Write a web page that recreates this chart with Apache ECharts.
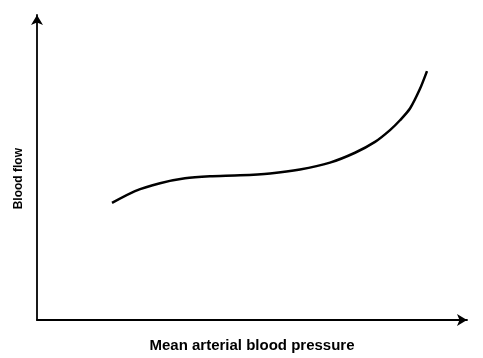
<!DOCTYPE html>
<html>
<head>
<meta charset="utf-8">
<script src="https://cdn.jsdelivr.net/npm/echarts@6/dist/echarts.min.js"></script>
<style>html,body{margin:0;padding:0;background:#fff;}#c{width:483px;height:358px;}</style>
</head>
<body>
<div id="c"></div>
<script>
// Arbitrary units (no ticks shown in the original)
var pressure = [75, 98, 123, 148, 173, 203, 233, 263, 293, 318, 338, 353, 363, 373, 383, 390];
var flow     = [119, 131, 139, 144, 146, 147, 149, 153, 160, 170, 181, 193, 203, 215, 235, 253];
var xLabel = 'Mean arterial blood pressure';
var yLabel = 'Blood flow';

var data = pressure.map(function (p, i) { return [p, flow[i]]; });
var chart = echarts.init(document.getElementById('c'));
chart.setOption({
  animation: false,
  grid: { left: 37, right: 16, top: 15, bottom: 33 },
  xAxis: {
    type: 'value', min: 0, max: 430,
    axisLine: { show: true, lineStyle: { color: '#000', width: 1.8 }, symbol: ['none', 'arrow'], symbolSize: [9, 10] },
    axisTick: { show: false }, axisLabel: { show: false }, splitLine: { show: false },
    name: xLabel, nameLocation: 'middle', nameGap: 18,
    nameTextStyle: { fontFamily: 'Liberation Sans, Arial, sans-serif', fontWeight: 'bold', fontSize: 15, color: '#000' }
  },
  yAxis: {
    type: 'value', min: 0, max: 310,
    axisLine: { show: true, lineStyle: { color: '#000', width: 1.8 }, symbol: ['none', 'arrow'], symbolSize: [9, 10] },
    axisTick: { show: false }, axisLabel: { show: false }, splitLine: { show: false }
  },
  graphic: [{
    type: 'text', left: 13, top: 148, rotation: Math.PI / 2,
    style: { text: yLabel, fontFamily: 'Liberation Sans, Arial, sans-serif', fontWeight: 'bold', fontSize: 12, fill: '#000' }
  }],
  series: [{
    type: 'line', data: data, smooth: 0.25, showSymbol: false,
    lineStyle: { color: '#000', width: 2.5 }
  }]
});
</script>
</body>
</html>
